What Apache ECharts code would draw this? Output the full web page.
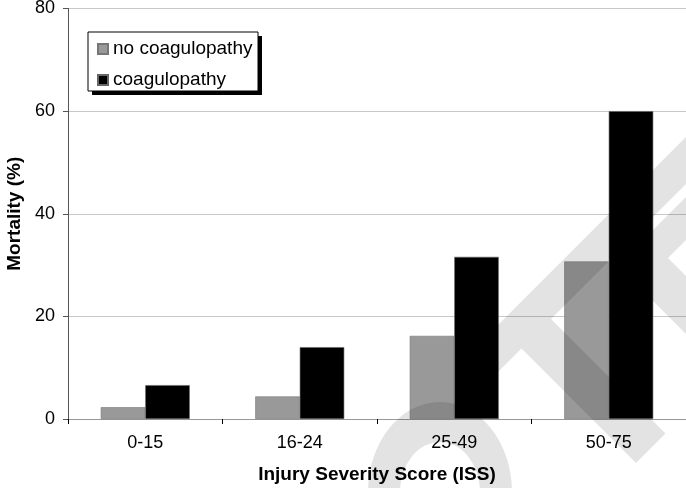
<!DOCTYPE html>
<html><head><meta charset="utf-8">
<script src="https://cdn.jsdelivr.net/npm/echarts@6/dist/echarts.min.js"></script>
<style>html,body{margin:0;padding:0;background:#fff}#c{width:686px;height:488px}</style>
</head><body><div id="c"></div>
<script>
var categories = ['0-15', '16-24', '25-49', '50-75'];
var noCoag = [2.3, 4.4, 16.2, 30.7];
var coag = [6.6, 14.0, 31.6, 60.0];
var yTicks = [0, 20, 40, 60, 80];

var chart = echarts.init(document.getElementById('c'));
var F = '"Liberation Sans", Arial, sans-serif';
var WM = 'rgba(0,0,0,0.11)';
chart.setOption({
  animation: false,
  backgroundColor: '#fff',
  grid: {left: 68, right: 0, top: 8.5, bottom: 69, outerBoundsMode: 'none'},
  legend: {
    orient: 'vertical', left: 97, top: 38.5, z: 6,
    data: ['no coagulopathy', 'coagulopathy'],
    icon: 'rect', itemWidth: 10, itemHeight: 10, itemGap: 10,
    padding: 0,
    textStyle: {fontFamily: F, fontSize: 19, color: '#000', lineHeight: 21}
  },
  graphic: [
    {type: 'rect', z: 3, silent: true,
     shape: {x: 92, y: 36, width: 170, height: 59},
     style: {fill: '#000'}},
    {type: 'rect', z: 4, silent: true,
     shape: {x: 88, y: 32, width: 170, height: 59},
     style: {fill: '#fff', stroke: '#000', lineWidth: 1}},
    {type: 'polygon', z: 20, silent: true,
     shape: {points: [[471.5, 351.5], [495, 375], [835, 35], [811.5, 11.5]]}, style: {fill: WM}},
    {type: 'polygon', z: 20, silent: true,
     shape: {points: [[551, 319], [521.5, 348.5], [636, 463], [665.5, 433.5]]}, style: {fill: WM}},
    {type: 'polygon', z: 20, silent: true,
     shape: {points: [[631.5, 251.5], [653, 273], [913, 13], [891.5, -8.5]]}, style: {fill: WM}},
    {type: 'polygon', z: 20, silent: true,
     shape: {points: [[668, 258], [639, 287], [826, 474], [855, 445]]}, style: {fill: WM}},
    {type: 'ring', z: 20, silent: true, scaleY: 1.25, originX: 440, originY: 492,
     shape: {cx: 440, cy: 492, r: 72, r0: 40}, style: {fill: WM}}
  ],
  xAxis: {
    type: 'category', data: categories,
    name: 'Injury Severity Score (ISS)', nameLocation: 'middle', nameGap: 46,
    nameTextStyle: {fontFamily: F, fontSize: 19, fontWeight: 'bold', color: '#000'},
    axisLine: {lineStyle: {color: '#999', width: 1}},
    axisTick: {show: true, length: 5, lineStyle: {color: '#000'}},
    axisLabel: {fontFamily: F, fontSize: 18, color: '#000', margin: 15}
  },
  yAxis: {
    type: 'value', min: 0, max: 80, interval: 20,
    name: 'Mortality (%)', nameLocation: 'middle', nameGap: 44,
    nameTextStyle: {fontFamily: F, fontSize: 19, fontWeight: 'bold', color: '#000'},
    axisLine: {show: true, lineStyle: {color: '#555', width: 1}},
    axisTick: {show: true, length: 5, lineStyle: {color: '#555'}},
    axisLabel: {fontFamily: F, fontSize: 18, color: '#000', margin: 13,
      formatter: function (v) { return yTicks.indexOf(v) >= 0 ? String(v) : ''; }},
    splitLine: {lineStyle: {color: '#c8c8c8', width: 1}}
  },
  series: [
    {name: 'no coagulopathy', type: 'bar', data: noCoag, barWidth: 44.5, barGap: '0%',
     itemStyle: {color: '#999999', borderColor: '#777', borderWidth: 0.6}},
    {name: 'coagulopathy', type: 'bar', data: coag, barWidth: 44.5, barGap: '0%',
     itemStyle: {color: '#000', borderColor: '#666', borderWidth: 0.6}}
  ]
});
</script></body></html>
